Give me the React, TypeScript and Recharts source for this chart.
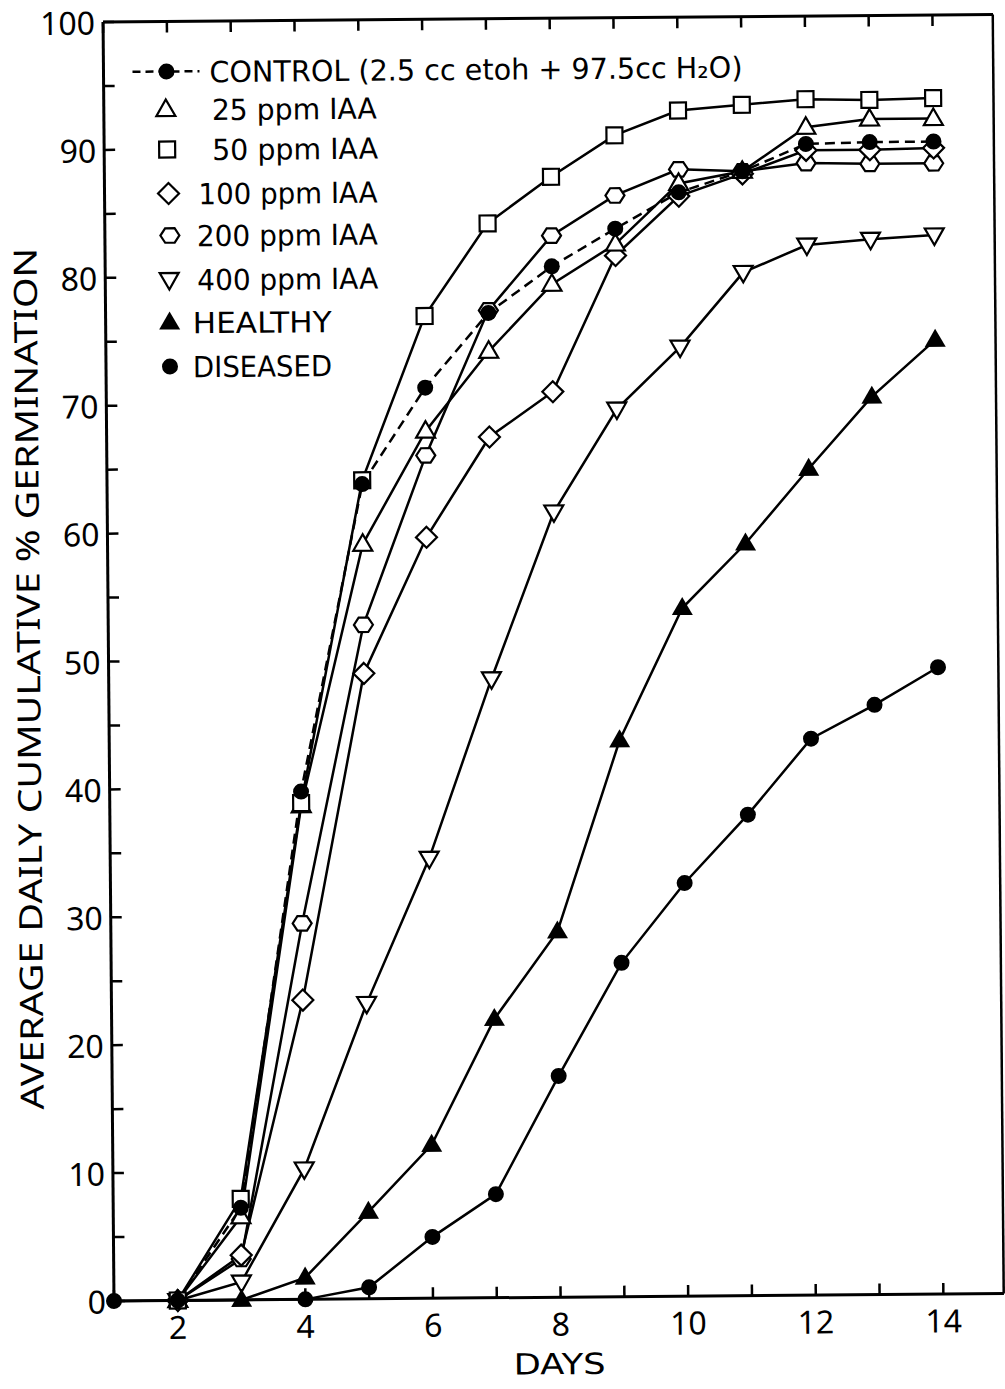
import React from "react";
import { LineChart, Line, XAxis, YAxis } from "recharts";

const DAYS = [1, 2, 3, 4, 5, 6, 7, 8, 9, 10, 11, 12, 13, 14];
const CONTROL = [null, 0, 7.2, 39.7, 63.7, 71.2, 77.0, 80.6, 83.5, 86.3, 87.9, 90.0, 90.1, 90.1];
const IAA_25 = [null, 0, 6.5, 38.6, 59.0, 67.8, 74.0, 79.2, 82.3, 87.0, 87.9, 91.3, 91.9, 91.9];
const IAA_50 = [null, 0, 7.9, 38.8, 64.0, 76.8, 84.0, 87.6, 90.8, 92.7, 93.1, 93.5, 93.4, 93.5];
const IAA_100 = [null, 0, 3.5, 23.4, 48.9, 59.5, 67.3, 70.8, 81.4, 86.0, 87.7, 89.5, 89.5, 89.6];
const IAA_200 = [null, 0, 3.2, 29.4, 52.7, 65.9, 77.2, 83.0, 86.1, 88.1, 87.9, 88.5, 88.4, 88.4];
const IAA_400 = [null, 0, 1.4, 10.2, 23.1, 34.4, 48.4, 61.4, 69.4, 74.2, 80.0, 82.1, 82.5, 82.8];
const HEALTHY = [null, 0, 0, 1.7, 6.8, 12.0, 21.8, 28.6, 43.5, 53.8, 58.8, 64.6, 70.2, 74.6];
const DISEASED = [0, 0, null, 0, 0.9, 4.8, 8.1, 17.3, 26.1, 32.3, 37.6, 43.5, 46.1, 49.0];

const Y_TICKS = [0, 5, 10, 15, 20, 25, 30, 35, 40, 45, 50, 55, 60, 65, 70, 75, 80, 85, 90, 95, 100];
const Y_LABELS = [0, 10, 20, 30, 40, 50, 60, 70, 80, 90, 100];
const X_LABELS = [2, 4, 6, 8, 10, 12, 14];

const SERIES = [
  { key: "diseased", values: DISEASED, marker: "dot", dashed: false, label: "DISEASED" },
  { key: "healthy", values: HEALTHY, marker: "tri", dashed: false, label: "HEALTHY" },
  { key: "iaa400", values: IAA_400, marker: "itri", dashed: false, label: "400 ppm IAA" },
  { key: "iaa200", values: IAA_200, marker: "hex", dashed: false, label: "200 ppm IAA" },
  { key: "iaa100", values: IAA_100, marker: "diamond", dashed: false, label: "100 ppm IAA" },
  { key: "iaa25", values: IAA_25, marker: "otri", dashed: false, label: "25 ppm IAA" },
  { key: "iaa50", values: IAA_50, marker: "square", dashed: false, label: "50 ppm IAA" },
  { key: "control", values: CONTROL, marker: "dot", dashed: true, label: "CONTROL" },
];

const data = DAYS.map((d, i) => {
  const row: any = { day: d };
  SERIES.forEach((s) => {
    row[s.key] = s.values[i];
  });
  return row;
});

const W = 1005;
const H = 1389;
const PLOT_LEFT = 114;
const PLOT_RIGHT = 1004;
const PLOT_TOP = 22;
const PLOT_BOTTOM = 1301;
const FONT = "'Noto Sans', 'DejaVu Sans', sans-serif";
const LFONT = "'DejaVu Sans', 'Noto Sans', sans-serif";
const SW = 2.2;

function Marker({ kind, cx, cy }: { kind: string; cx: number; cy: number }) {
  switch (kind) {
    case "dot":
      return <circle cx={cx} cy={cy} r={8} fill="#000" />;
    case "tri":
      return (
        <polygon
          points={`${cx},${cy - 11} ${cx - 10.5},${cy + 7} ${cx + 10.5},${cy + 7}`}
          fill="#000"
        />
      );
    case "otri":
      return (
        <polygon
          points={`${cx},${cy - 10} ${cx - 9.5},${cy + 6.5} ${cx + 9.5},${cy + 6.5}`}
          fill="#fff"
          stroke="#000"
          strokeWidth={SW}
        />
      );
    case "itri":
      return (
        <polygon
          points={`${cx},${cy + 10} ${cx - 9.5},${cy - 6.5} ${cx + 9.5},${cy - 6.5}`}
          fill="#fff"
          stroke="#000"
          strokeWidth={SW}
        />
      );
    case "square":
      return (
        <rect x={cx - 8} y={cy - 8} width={16} height={16} fill="#fff" stroke="#000" strokeWidth={SW} />
      );
    case "diamond":
      return (
        <polygon
          points={`${cx},${cy - 10.5} ${cx + 10.5},${cy} ${cx},${cy + 10.5} ${cx - 10.5},${cy}`}
          fill="#fff"
          stroke="#000"
          strokeWidth={SW}
        />
      );
    case "hex": {
      const r = 9.5;
      const pts = [0, 60, 120, 180, 240, 300]
        .map((a) => {
          const rad = (a * Math.PI) / 180;
          return `${cx + r * Math.cos(rad)},${cy + r * 0.88 * Math.sin(rad)}`;
        })
        .join(" ");
      return <polygon points={pts} fill="#fff" stroke="#000" strokeWidth={SW} />;
    }
    default:
      return null;
  }
}

const makeDot = (kind: string, key: string) => (p: any) => {
  if (p == null || p.value == null || p.cx == null || p.cy == null || isNaN(p.cy)) {
    return <g key={`${key}-${p?.index}`} />;
  }
  return (
    <g key={`${key}-${p.index}`}>
      <Marker kind={kind} cx={p.cx} cy={p.cy} />
    </g>
  );
};

const LeftTick = (props: any) => {
  const y = props.y;
  const v = props.payload.value;
  return (
    <g>
      <line x1={PLOT_LEFT} x2={PLOT_LEFT + 11} y1={y} y2={y} stroke="#000" strokeWidth={2.5} />
      {Y_LABELS.includes(v) ? (
        <text x={106} y={y} textAnchor="end" dominantBaseline="central" fontSize={32} fontFamily={FONT} fill="#000">
          {v}
        </text>
      ) : null}
    </g>
  );
};

const RightTick = (props: any) => {
  const y = props.y;
  return <line x1={PLOT_RIGHT - 11} x2={PLOT_RIGHT} y1={y} y2={y} stroke="#000" strokeWidth={2.5} />;
};

const TopTick = (props: any) => {
  const x = props.x;
  return <line x1={x} x2={x} y1={PLOT_TOP} y2={PLOT_TOP + 11} stroke="#000" strokeWidth={2.5} />;
};

const BottomTick = (props: any) => {
  const x = props.x;
  const v = props.payload.value;
  return (
    <g>
      <line x1={x} x2={x} y1={PLOT_BOTTOM - 11} y2={PLOT_BOTTOM} stroke="#000" strokeWidth={2.5} />
      {X_LABELS.includes(v) ? (
        <text x={x} y={1327} textAnchor="middle" dominantBaseline="central" fontSize={32} fontFamily={FONT} fill="#000">
          {v}
        </text>
      ) : null}
    </g>
  );
};

const LEGEND = [
  { kind: "otri", label: "25 ppm IAA", y: 110, sx: 176, tx: 222, tw: 165 },
  { kind: "square", label: "50 ppm IAA", y: 150, sx: 177, tx: 222, tw: 166 },
  { kind: "diamond", label: "100 ppm IAA", y: 194, sx: 178, tx: 208, tw: 179 },
  { kind: "hex", label: "200 ppm IAA", y: 236, sx: 179, tx: 206, tw: 181 },
  { kind: "itri", label: "400 ppm IAA", y: 280, sx: 178, tx: 206, tw: 181 },
  { kind: "tri", label: "HEALTHY", y: 323, sx: 178, tx: 201, tw: 139 },
  { kind: "dot", label: "DISEASED", y: 367, sx: 178, tx: 201, tw: 139 },
];

function Overlay() {
  return (
    <svg
      width={W}
      height={H}
      style={{ position: "absolute", left: 0, top: 0, pointerEvents: "none" }}
    >
      {/* legend */}
      <g fontFamily={LFONT} fontSize={29} fill="#000">
        <line x1={143} x2={210} y1={72} y2={72} stroke="#000" strokeWidth={2.5} strokeDasharray="8 5" />
        <Marker kind="dot" cx={177} cy={72} />
        <text x={220} y={83} textLength={533} lengthAdjust="spacingAndGlyphs">
          {"CONTROL (2.5 cc  etoh + 97.5cc H\u2082O)"}
        </text>
        {LEGEND.map((l) => (
          <g key={l.label}>
            <Marker kind={l.kind} cx={l.sx} cy={l.y} />
            <text x={l.tx} y={l.y + 11} textLength={l.tw} lengthAdjust="spacingAndGlyphs">
              {l.label}
            </text>
          </g>
        ))}
      </g>
      {/* axis titles */}
      <text
        transform="translate(33,678) rotate(-90)"
        textAnchor="middle"
        dominantBaseline="central"
        fontSize={32}
        fontFamily={FONT}
        textLength={862}
        lengthAdjust="spacingAndGlyphs"
        fill="#000"
      >
        AVERAGE DAILY CUMULATIVE % GERMINATION
      </text>
      <text
        x={559}
        y={1378}
        textAnchor="middle"
        fontSize={29}
        fontFamily={LFONT}
        textLength={92}
        lengthAdjust="spacingAndGlyphs"
        fill="#000"
      >
        DAYS
      </text>
    </svg>
  );
}

export default function App() {
  return (
    <div
      style={{
        position: "absolute",
        left: 0,
        top: 0,
        width: W,
        height: H,
        overflow: "hidden",
        background: "#fff",
      }}
    >
      <div
        style={{
          position: "absolute",
          left: 0,
          top: 0,
          width: W,
          height: H,
          transform: "rotate(-0.49deg)",
          transformOrigin: "114px 1301px",
        }}
      >
        <LineChart
          width={W}
          height={H}
          data={data}
          margin={{ top: PLOT_TOP - 1, right: W - PLOT_RIGHT - 1, bottom: 0, left: 0 }}
        >
          <XAxis
            dataKey="day"
            type="number"
            domain={[1, 14.95]}
            ticks={DAYS}
            height={H - PLOT_BOTTOM}
            axisLine={{ stroke: "#000", strokeWidth: 3 }}
            tickLine={false}
            tick={BottomTick}
            interval={0}
          />
          <XAxis
            xAxisId="top"
            dataKey="day"
            type="number"
            orientation="top"
            domain={[1, 14.95]}
            ticks={DAYS}
            height={1}
            axisLine={{ stroke: "#000", strokeWidth: 3 }}
            tickLine={false}
            tick={TopTick}
            interval={0}
          />
          <YAxis
            type="number"
            domain={[0, 100]}
            ticks={Y_TICKS}
            width={PLOT_LEFT}
            axisLine={{ stroke: "#000", strokeWidth: 3 }}
            tickLine={false}
            tick={LeftTick}
            interval={0}
          />
          <YAxis
            yAxisId="right"
            orientation="right"
            type="number"
            domain={[0, 100]}
            ticks={Y_TICKS}
            width={1}
            axisLine={{ stroke: "#000", strokeWidth: 3 }}
            tickLine={false}
            tick={RightTick}
            interval={0}
          />
          {SERIES.map((s) => (
            <Line
              key={s.key}
              dataKey={s.key}
              type="linear"
              stroke="#000"
              strokeWidth={2.5}
              strokeDasharray={s.dashed ? "10 6" : undefined}
              connectNulls={s.key === "diseased"}
              dot={makeDot(s.marker, s.key)}
              activeDot={false}
              isAnimationActive={false}
            />
          ))}
        </LineChart>
        <Overlay />
      </div>
    </div>
  );
}
